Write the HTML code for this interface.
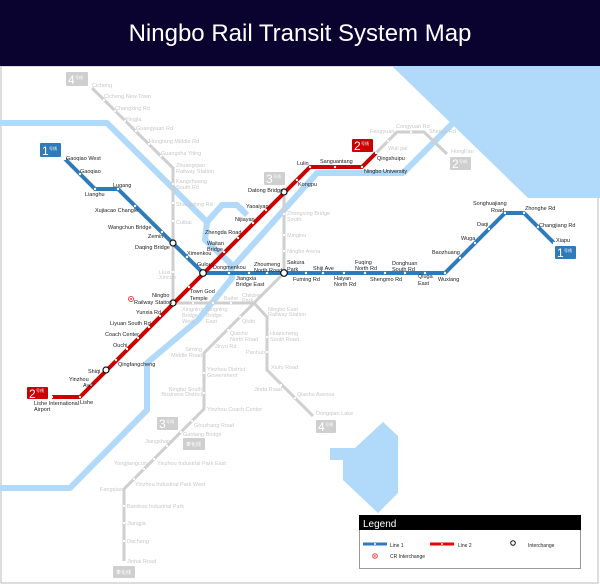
<!DOCTYPE html>
<html><head><meta charset="utf-8"><style>
html,body{margin:0;padding:0;background:#fff}
svg{display:block}
text{font-family:"Liberation Sans","Noto Sans CJK SC",sans-serif}
.b{font-size:5.5px;fill:#222}
.g{font-size:5.5px;fill:#c8c8c8}
</style></head><body>
<svg width="600" height="585" viewBox="0 0 600 585" xmlns="http://www.w3.org/2000/svg">
<rect x="0" y="0" width="600" height="585" fill="#fff"/>
<rect x="1" y="66" width="597" height="517" fill="none" stroke="#bbb" stroke-width="1"/>
<!-- sea -->
<polygon points="392,66 600,66 600,198 528,198" fill="#b0d9fa"/>
<!-- lake -->
<polygon points="383,422 398,436 398,493 378,513 343,480 343,460 330,460 330,448 355,448" fill="#b0d9fa"/>
<!-- rivers -->
<g fill="none" stroke="#b0d9fa" stroke-width="6" stroke-linejoin="round">
<polyline points="0,123 107,123 207,222 205,240 230,263 232,278 198,320 147,363 147,410 70,488 0,488"/>
<polyline points="207,222 222,205 237,205 247,215"/>
<polyline points="232,268 317,173 403,173 453,123 470,110"/>
</g>
<!-- header -->
<rect x="0" y="0" width="600" height="66" fill="#0a0330"/>
<text x="300" y="41" text-anchor="middle" style="font-size:24px;fill:#fff">Ningbo Rail Transit System Map</text>

<!-- grey lines -->
<g fill="none" stroke="#cfcfcf" stroke-width="3" stroke-linejoin="round">
<polyline points="92,88 173,168 173,303 254,303 267,317 267,370 313,416"/>
<polyline points="284,192 284,273 254,303 204,353 204,409 124,489 124,561"/>
<polyline points="376,153 397,132 424,132 447,154"/>
</g>
<g fill="#fff">
<circle cx="104" cy="100" r="1.1"/><circle cx="115" cy="111" r="1.1"/><circle cx="125" cy="121" r="1.1"/><circle cx="136" cy="131" r="1.1"/><circle cx="149" cy="144" r="1.1"/><circle cx="161" cy="156" r="1.1"/>
<circle cx="173" cy="184" r="1.1"/><circle cx="173" cy="203" r="1.1"/><circle cx="173" cy="221" r="1.1"/><circle cx="173" cy="272" r="1.1"/>
<circle cx="284" cy="214" r="1.1"/><circle cx="284" cy="235" r="1.1"/><circle cx="284" cy="251" r="1.1"/>
<circle cx="193" cy="303" r="1.1"/><circle cx="213" cy="303" r="1.1"/><circle cx="231" cy="303" r="1.1"/>
<circle cx="240" cy="317" r="1.1"/><circle cx="228" cy="330" r="1.1"/><circle cx="204" cy="373" r="1.1"/><circle cx="204" cy="393" r="1.1"/>
<circle cx="192" cy="421" r="1.1"/><circle cx="181" cy="432" r="1.1"/><circle cx="167" cy="446" r="1.1"/><circle cx="154" cy="459" r="1.1"/><circle cx="144" cy="469" r="1.1"/><circle cx="134" cy="479" r="1.1"/>
<circle cx="124" cy="506" r="1.1"/><circle cx="124" cy="523" r="1.1"/><circle cx="124" cy="541" r="1.1"/>
<circle cx="267" cy="337" r="1.1"/><circle cx="267" cy="352" r="1.1"/><circle cx="281" cy="385" r="1.1"/><circle cx="295" cy="398" r="1.1"/>
<circle cx="388" cy="141" r="1.1"/><circle cx="411" cy="132" r="1.1"/>
</g>

<!-- line 1 -->
<polyline points="65,159 95,189 118,189 203,273 445,273 505,213 524,213 554,243" fill="none" stroke="#2f7bba" stroke-width="4" stroke-linejoin="round"/>
<!-- line 2 -->
<polyline points="52,397 80,397 310,167 362,167 376,153" fill="none" stroke="#cc0000" stroke-width="4" stroke-linejoin="round"/>
<g fill="#fff">
<circle cx="65" cy="159" r="1.2"/><circle cx="80" cy="174" r="1.2"/><circle cx="95" cy="189" r="1.2"/><circle cx="118" cy="189" r="1.2"/><circle cx="135" cy="206" r="1.2"/><circle cx="162" cy="232" r="1.2"/><circle cx="187" cy="257" r="1.2"/>
<circle cx="229" cy="273" r="1.2"/><circle cx="249" cy="273" r="1.2"/><circle cx="267" cy="273" r="1.2"/><circle cx="306" cy="273" r="1.2"/><circle cx="323" cy="273" r="1.2"/><circle cx="344" cy="273" r="1.2"/><circle cx="365" cy="273" r="1.2"/><circle cx="385" cy="273" r="1.2"/><circle cx="405" cy="273" r="1.2"/><circle cx="425" cy="273" r="1.2"/><circle cx="445" cy="273" r="1.2"/>
<circle cx="460" cy="258" r="1.2"/><circle cx="475" cy="243" r="1.2"/><circle cx="489" cy="229" r="1.2"/><circle cx="505" cy="213" r="1.2"/><circle cx="524" cy="213" r="1.2"/><circle cx="538" cy="227" r="1.2"/><circle cx="554" cy="243" r="1.2"/>
<circle cx="52" cy="397" r="1.2"/><circle cx="80" cy="397" r="1.2"/><circle cx="91" cy="385" r="1.2"/><circle cx="116" cy="360" r="1.2"/><circle cx="127" cy="349" r="1.2"/><circle cx="138" cy="338" r="1.2"/><circle cx="149" cy="327" r="1.2"/><circle cx="160" cy="316" r="1.2"/><circle cx="189" cy="287" r="1.2"/>
<circle cx="224" cy="252" r="1.2"/><circle cx="238" cy="238" r="1.2"/><circle cx="253" cy="223" r="1.2"/><circle cx="266" cy="210" r="1.2"/><circle cx="297" cy="180" r="1.2"/><circle cx="310" cy="167" r="1.2"/><circle cx="335" cy="167" r="1.2"/><circle cx="362" cy="167" r="1.2"/><circle cx="376" cy="153" r="1.2"/>
</g>
<!-- interchanges -->
<g fill="#fff" stroke="#111" stroke-width="1.2">
<circle cx="173" cy="243" r="3"/><circle cx="203" cy="273" r="3.3"/><circle cx="284" cy="273" r="3.3"/><circle cx="284" cy="192" r="3"/><circle cx="173" cy="303" r="3"/><circle cx="106" cy="370" r="3"/>
</g>
<circle cx="131" cy="299" r="2.5" fill="none" stroke="#e44" stroke-width="1"/><circle cx="131" cy="299" r="1" fill="#e44"/>

<!-- badges -->
<g>
<rect x="40" y="143" width="21" height="14" rx="1" fill="#2f7bba"/><text x="42" y="155" style="font-size:12px;fill:#fff">1</text><text x="49" y="150" style="font-size:4px;fill:#fff">号线</text>
<rect x="555" y="246" width="21" height="13" rx="1" fill="#2f7bba"/><text x="557" y="257" style="font-size:12px;fill:#fff">1</text><text x="564" y="252" style="font-size:4px;fill:#fff">号线</text>
<rect x="27" y="387" width="21" height="12" rx="1" fill="#cc0000"/><text x="29" y="398" style="font-size:12px;fill:#fff">2</text><text x="36" y="392" style="font-size:4px;fill:#fff">号线</text>
<rect x="352" y="139" width="21" height="13" rx="1" fill="#cc0000"/><text x="354" y="150" style="font-size:12px;fill:#fff">2</text><text x="361" y="145" style="font-size:4px;fill:#fff">号线</text>
<rect x="66" y="72" width="22" height="14" rx="1" fill="#cfcfcf"/><text x="68" y="84" style="font-size:12px;fill:#fff">4</text><text x="75" y="79" style="font-size:4px;fill:#fff">号线</text>
<rect x="264" y="172" width="21" height="13" rx="1" fill="#cfcfcf"/><text x="266" y="183" style="font-size:12px;fill:#fff">3</text><text x="273" y="178" style="font-size:4px;fill:#fff">号线</text>
<rect x="450" y="157" width="21" height="13" rx="1" fill="#cfcfcf"/><text x="452" y="168" style="font-size:12px;fill:#fff">2</text><text x="459" y="163" style="font-size:4px;fill:#fff">号线</text>
<rect x="157" y="417" width="21" height="13" rx="1" fill="#cfcfcf"/><text x="159" y="428" style="font-size:12px;fill:#fff">3</text><text x="166" y="423" style="font-size:4px;fill:#fff">号线</text>
<rect x="316" y="420" width="20" height="13" rx="1" fill="#cfcfcf"/><text x="318" y="431" style="font-size:12px;fill:#fff">4</text><text x="325" y="426" style="font-size:4px;fill:#fff">号线</text>
<rect x="183" y="438" width="22" height="12" rx="1" fill="#cfcfcf"/><text x="186" y="446" style="font-size:5px;fill:#fff">奉化线</text>
<rect x="113" y="566" width="22" height="12" rx="1" fill="#cfcfcf"/><text x="116" y="574" style="font-size:5px;fill:#fff">奉化线</text>
</g>

<!-- black labels -->
<g class="b">
<text x="66" y="160">Gaoqiao West</text>
<text x="80" y="173">Gaoqiao</text>
<text x="85" y="196">Lianghu</text>
<text x="113" y="187">Lugang</text>
<text x="95" y="212">Xujiacao Changle</text>
<text x="108" y="229">Wangchun Bridge</text>
<text x="148" y="238">Zemin</text>
<text x="135" y="249">Daqing Bridge</text>
<text x="187" y="255">Ximenkou</text>
<text x="197" y="266">Gulou</text>
<text x="213" y="269">Dongmenkou</text>
<text x="236" y="280">Jiangxia</text><text x="236" y="286">Bridge East</text>
<text x="254" y="266">Zhoumeng</text><text x="254" y="272">North Road</text>
<text x="287" y="264">Sakura</text><text x="287" y="271">Park</text>
<text x="190" y="293">Town God</text><text x="190" y="300">Temple</text>
<text x="152" y="297">Ningbo</text><text x="134" y="304">Railway</text><text x="155" y="304">Station</text>
<text x="136" y="314">Yunxia Rd</text>
<text x="110" y="325">Liyuan South Rd</text>
<text x="105" y="336">Coach Center</text>
<text x="113" y="347">Ouchi</text>
<text x="118" y="366">Qingfangcheng</text>
<text x="88" y="373">Shiqi</text>
<text x="69" y="381">Yinzhou</text><text x="83" y="387">Ave</text>
<text x="34" y="405">Lishe International</text><text x="34" y="411">Airport</text>
<text x="80" y="404">Lishe</text>
<text x="248" y="192">Datong Bridge</text>
<text x="246" y="208">Yaoaiyan</text>
<text x="235" y="221">Nijiayan</text>
<text x="205" y="234">Zhengda Road</text>
<text x="207" y="245">Waitan</text><text x="207" y="251">Bridge</text>
<text x="298" y="186">Kongpu</text>
<text x="297" y="165">Lulin</text>
<text x="320" y="163">Sanguantang</text>
<text x="377" y="160">Qingshuipu</text>
<text x="364" y="173">Ningbo University</text>
<text x="313" y="270">Shiji Ave</text>
<text x="293" y="281">Fuming Rd</text>
<text x="334" y="280">Haiyan</text><text x="334" y="286">North Rd</text>
<text x="355" y="264">Fuqing</text><text x="355" y="270">North Rd</text>
<text x="370" y="281">Shengmo Rd</text>
<text x="392" y="265">Donghuan</text><text x="392" y="271">South Rd</text>
<text x="418" y="278">Qiuga</text><text x="418" y="285">East</text>
<text x="438" y="281">Wuxiang</text>
<text x="432" y="254">Baozhuang</text>
<text x="461" y="240">Wuga</text>
<text x="477" y="226">Daqi</text>
<text x="473" y="205">Songhuajiang</text><text x="491" y="212">Road</text>
<text x="525" y="210">Zhonghe Rd</text>
<text x="539" y="227">Changjiang Rd</text>
<text x="556" y="242">Xiapu</text>
</g>
<!-- grey labels -->
<g class="g">
<text x="92" y="87">Cicheng</text><text x="104" y="98">Cicheng New Town</text><text x="115" y="110">Changxing Rd</text><text x="125" y="121">Yingjia</text><text x="136" y="130">Guangyuan Rd</text><text x="149" y="143">Hongtang Middle Rd</text><text x="161" y="155">Guangsha Yiting</text>
<text x="176" y="167">Zhuangqiao</text><text x="176" y="173">Railway Station</text>
<text x="176" y="183">Kangzhuang</text><text x="176" y="189">South Rd</text>
<text x="176" y="206">Shangdong Rd</text><text x="176" y="224">Cuibai</text>
<text x="159" y="274">Liuxi</text><text x="159" y="279">Xincun</text>
<text x="287" y="215">Zhongxing Bridge</text><text x="287" y="221">South</text>
<text x="287" y="237">Minglou</text><text x="287" y="253">Ningbo Arena</text>
<text x="370" y="133">Fengyuan</text><text x="396" y="128">Congyuan Rd</text><text x="429" y="133">Shengli Rd</text><text x="388" y="150">Wuli pai</text><text x="451" y="153">Hongli'an</text>
<text x="224" y="300">Baihe</text><text x="242" y="297">Children</text><text x="242" y="302">Park</text>
<text x="182" y="311">Xingning</text><text x="182" y="317">Bridge</text><text x="182" y="323">West</text>
<text x="206" y="311">Xingning</text><text x="206" y="317">Bridge</text><text x="206" y="323">East</text>
<text x="268" y="311">Ningbo East</text><text x="268" y="316">Railway Station</text>
<text x="242" y="323">Qiubi</text><text x="230" y="335">Qianhu</text><text x="230" y="341">North Road</text>
<text x="270" y="335">Huancheng</text><text x="270" y="341">South Road</text>
<text x="215" y="348">Jinyu Rd</text>
<text x="202" y="351" text-anchor="end">Siming</text><text x="202" y="357" text-anchor="end">Middle Road</text>
<text x="246" y="354">Panhuo</text><text x="271" y="369">Xiufu Road</text>
<text x="207" y="371">Yinzhou District</text><text x="207" y="377">Government</text>
<text x="254" y="391">Jinda Road</text><text x="297" y="396">Qianhu Avenue</text>
<text x="202" y="391" text-anchor="end">Ningbo South</text><text x="202" y="396" text-anchor="end">Business District</text>
<text x="207" y="411">Yinzhou Coach Center</text><text x="316" y="415">Dongqian Lake</text>
<text x="194" y="427">Gouzhang Road</text><text x="183" y="436">Gaotang Bridge</text>
<text x="145" y="443">Jiangshan</text><text x="114" y="465">Yongjiangcun</text><text x="157" y="465">Yinzhou Industrial Park East</text>
<text x="100" y="491">Fangqiao</text><text x="135" y="486">Yinzhou Industrial Park West</text>
<text x="127" y="508">Bamboo Industrial Park</text><text x="127" y="525">Jiangjia</text><text x="127" y="543">Dacheng</text><text x="127" y="563">Jinhai Road</text>
</g>

<!-- legend -->
<rect x="359.5" y="515.5" width="221" height="53" fill="#fff" stroke="#999"/>
<rect x="359" y="515" width="222" height="15" fill="#000"/>
<text x="363" y="527" style="font-size:10px;fill:#fff">Legend</text>
<line x1="363" y1="544" x2="387" y2="544" stroke="#2f7bba" stroke-width="3"/><circle cx="375" cy="544" r="1" fill="#fff"/>
<text x="390" y="547" style="font-size:5px;fill:#222">Line 1</text>
<line x1="430" y1="544" x2="454" y2="544" stroke="#e00" stroke-width="3"/><circle cx="442" cy="544" r="1" fill="#fff"/>
<text x="458" y="547" style="font-size:5px;fill:#222">Line 2</text>
<circle cx="513" cy="543" r="2.3" fill="#fff" stroke="#111" stroke-width="1"/>
<text x="528" y="547" style="font-size:5px;fill:#222">Interchange</text>
<circle cx="375" cy="556" r="2.3" fill="none" stroke="#e44" stroke-width="1"/><circle cx="375" cy="556" r="0.9" fill="#e44"/>
<text x="390" y="558" style="font-size:5px;fill:#222">CR Interchange</text>
</svg>
</body></html>
